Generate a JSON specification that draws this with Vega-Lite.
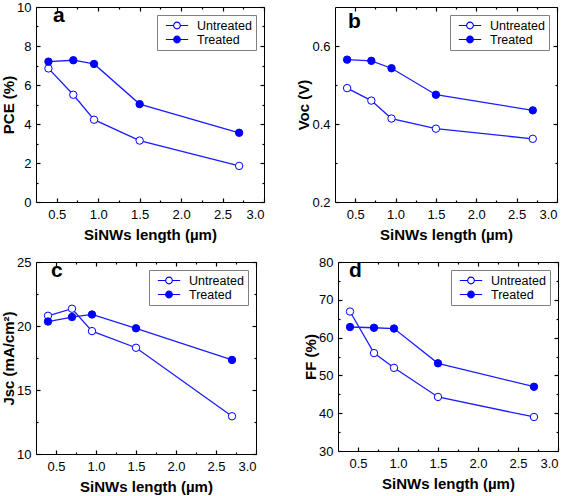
{
  "$schema": "https://vega.github.io/schema/vega-lite/v6.json",
  "background": "white",
  "padding": {"left": 1, "top": 0, "right": 0, "bottom": 0},
  "config": {
    "font": "Liberation Sans",
    "view": {"stroke": "#000", "strokeWidth": 1},
    "axis": {"domain": false, "grid": false, "ticks": true, "tickColor": "#000", "tickWidth": 1.2, "labelColor": "#000", "labelFont": "Liberation Sans", "labelFontSize": 13, "titleFont": "Liberation Sans", "titleFontSize": 15, "titleFontWeight": "bold", "titleColor": "#000"},
    "legend": {"strokeColor": "#808080", "fillColor": "#ffffff", "padding": 4, "symbolType": "M-1,0L-0.3,0M0.3,0L1,0M-0.3,0A0.3,0.3,0,1,1,0.3,0A0.3,0.3,0,1,1,-0.3,0Z", "symbolSize": 500, "symbolStrokeColor": "#0000ff", "symbolStrokeWidth": 1.1, "symbolOffset": 4, "labelOffset": 8, "labelFontSize": 12.5, "labelFont": "Liberation Sans", "labelColor": "#000", "rowPadding": 1, "clipHeight": 13, "cornerRadius": 0, "orient": "top-right", "offset": 8}
  },
  "datasets": {
    "pce": [
      {"length": 0.4, "series": "Untreated", "value": 6.85},
      {"length": 0.7, "series": "Untreated", "value": 5.5},
      {"length": 0.95, "series": "Untreated", "value": 4.22},
      {"length": 1.5, "series": "Untreated", "value": 3.15},
      {"length": 2.7, "series": "Untreated", "value": 1.85},
      {"length": 0.4, "series": "Treated", "value": 7.2},
      {"length": 0.7, "series": "Treated", "value": 7.27},
      {"length": 0.95, "series": "Treated", "value": 7.08},
      {"length": 1.5, "series": "Treated", "value": 5.02},
      {"length": 2.7, "series": "Treated", "value": 3.55}
    ],
    "voc": [
      {"length": 0.4, "series": "Untreated", "value": 0.492},
      {"length": 0.7, "series": "Untreated", "value": 0.46},
      {"length": 0.95, "series": "Untreated", "value": 0.414},
      {"length": 1.5, "series": "Untreated", "value": 0.388},
      {"length": 2.7, "series": "Untreated", "value": 0.362},
      {"length": 0.4, "series": "Treated", "value": 0.565},
      {"length": 0.7, "series": "Treated", "value": 0.562},
      {"length": 0.95, "series": "Treated", "value": 0.543},
      {"length": 1.5, "series": "Treated", "value": 0.475},
      {"length": 2.7, "series": "Treated", "value": 0.435}
    ],
    "jsc": [
      {"length": 0.4, "series": "Untreated", "value": 20.8},
      {"length": 0.7, "series": "Untreated", "value": 21.35},
      {"length": 0.95, "series": "Untreated", "value": 19.6},
      {"length": 1.5, "series": "Untreated", "value": 18.3},
      {"length": 2.7, "series": "Untreated", "value": 12.95},
      {"length": 0.4, "series": "Treated", "value": 20.35},
      {"length": 0.7, "series": "Treated", "value": 20.7},
      {"length": 0.95, "series": "Treated", "value": 20.9},
      {"length": 1.5, "series": "Treated", "value": 19.82},
      {"length": 2.7, "series": "Treated", "value": 17.35}
    ],
    "ff": [
      {"length": 0.4, "series": "Untreated", "value": 66.9},
      {"length": 0.7, "series": "Untreated", "value": 55.9},
      {"length": 0.95, "series": "Untreated", "value": 52.0},
      {"length": 1.5, "series": "Untreated", "value": 44.3},
      {"length": 2.7, "series": "Untreated", "value": 39.0},
      {"length": 0.4, "series": "Treated", "value": 62.8},
      {"length": 0.7, "series": "Treated", "value": 62.6},
      {"length": 0.95, "series": "Treated", "value": 62.4},
      {"length": 1.5, "series": "Treated", "value": 53.2},
      {"length": 2.7, "series": "Treated", "value": 47.0}
    ]
  },
  "spacing": 12,
  "vconcat": [
    {
      "spacing": 30,
      "resolve": {"scale": {"fill": "independent"}, "legend": {"fill": "independent"}},
      "hconcat": [
        {
          "width": 228, "height": 195,
          "title": {"text": "a", "anchor": "start", "frame": "group", "offset": -25, "dx": 17, "fontSize": 21, "fontWeight": "bold", "font": "Liberation Sans", "color": "#000"},
          "data": {"name": "pce"},
          "resolve": {"axis": {"x": "independent", "y": "independent"}},
          "layer": [
            {"mark": {"type": "line", "color": "#1c1cff", "strokeWidth": 1.3},
             "encoding": {
               "x": {"field": "length", "type": "quantitative", "scale": {"domain": [0.25, 3], "nice": false, "zero": false}, "axis": {"orient": "bottom", "values": [0.5, 1, 1.5, 2, 2.5, 3], "format": ".1f", "title": "SiNWs length (µm)", "offset": -4, "tickSize": 4, "labelPadding": 6, "titlePadding": 6}},
               "y": {"field": "value", "type": "quantitative", "scale": {"domain": [0, 10], "nice": false, "zero": false}, "axis": {"orient": "left", "values": [0, 2, 4, 6, 8, 10], "title": "PCE (%)", "offset": -4, "tickSize": 4, "labelPadding": 5, "titlePadding": 0}},
               "detail": {"field": "series"}}},
            {"mark": {"type": "line", "strokeOpacity": 0},
             "encoding": {
               "x": {"field": "length", "type": "quantitative", "axis": {"orient": "bottom", "values": [0.75, 1.25, 1.75, 2.25, 2.75], "labels": false, "title": null, "offset": -2, "tickSize": 2}},
               "y": {"field": "value", "type": "quantitative", "axis": {"orient": "left", "values": [1, 3, 5, 7, 9], "labels": false, "title": null, "offset": -2, "tickSize": 2}},
               "detail": {"field": "series"}}},
            {"mark": {"type": "line", "strokeOpacity": 0},
             "encoding": {
               "x": {"field": "length", "type": "quantitative", "axis": {"orient": "top", "values": [0.5, 1, 1.5, 2, 2.5, 3], "labels": false, "title": null, "offset": -4, "tickSize": 4}},
               "y": {"field": "value", "type": "quantitative", "axis": {"orient": "right", "values": [0, 2, 4, 6, 8, 10], "labels": false, "title": null, "offset": -4, "tickSize": 4}},
               "detail": {"field": "series"}}},
            {"mark": {"type": "line", "strokeOpacity": 0},
             "encoding": {
               "x": {"field": "length", "type": "quantitative", "axis": {"orient": "top", "values": [0.75, 1.25, 1.75, 2.25, 2.75], "labels": false, "title": null, "offset": -2, "tickSize": 2}},
               "y": {"field": "value", "type": "quantitative", "axis": {"orient": "right", "values": [1, 3, 5, 7, 9], "labels": false, "title": null, "offset": -2, "tickSize": 2}},
               "detail": {"field": "series"}}},
            {"mark": {"type": "point", "filled": true, "size": 55, "stroke": "#0000ff", "strokeWidth": 1, "opacity": 1},
             "encoding": {
               "x": {"field": "length", "type": "quantitative", "axis": null},
               "y": {"field": "value", "type": "quantitative", "axis": null},
               "fill": {"field": "series", "type": "nominal", "scale": {"domain": ["Untreated", "Treated"], "range": ["#ffffff", "#0000ff"]}, "legend": {"title": null, "encode": {"symbols": {"update": {"stroke": {"value": "#0000ff"}, "strokeWidth": {"value": 1.1}, "size": {"value": 500}}}}}}}}
          ]
        },
        {
          "width": 222, "height": 195,
          "title": {"text": "b", "anchor": "start", "frame": "group", "offset": -26, "dx": 13, "fontSize": 21, "fontWeight": "bold", "font": "Liberation Sans", "color": "#000"},
          "data": {"name": "voc"},
          "resolve": {"axis": {"x": "independent", "y": "independent"}},
          "layer": [
            {"mark": {"type": "line", "color": "#1c1cff", "strokeWidth": 1.3},
             "encoding": {
               "x": {"field": "length", "type": "quantitative", "scale": {"domain": [0.25, 3], "nice": false, "zero": false}, "axis": {"orient": "bottom", "values": [0.5, 1, 1.5, 2, 2.5, 3], "format": ".1f", "title": "SiNWs length (µm)", "offset": -4, "tickSize": 4, "labelPadding": 6, "titlePadding": 6}},
               "y": {"field": "value", "type": "quantitative", "scale": {"domain": [0.2, 0.7], "nice": false, "zero": false}, "axis": {"orient": "left", "values": [0.2, 0.4, 0.6], "format": ".1f", "title": "Voc (V)", "offset": -4, "tickSize": 4, "labelPadding": 5, "titlePadding": 0}},
               "detail": {"field": "series"}}},
            {"mark": {"type": "line", "strokeOpacity": 0},
             "encoding": {
               "x": {"field": "length", "type": "quantitative", "axis": {"orient": "bottom", "values": [0.75, 1.25, 1.75, 2.25, 2.75], "labels": false, "title": null, "offset": -2, "tickSize": 2}},
               "y": {"field": "value", "type": "quantitative", "axis": {"orient": "left", "values": [0.3, 0.5], "labels": false, "title": null, "offset": -2, "tickSize": 2}},
               "detail": {"field": "series"}}},
            {"mark": {"type": "line", "strokeOpacity": 0},
             "encoding": {
               "x": {"field": "length", "type": "quantitative", "axis": {"orient": "top", "values": [0.5, 1, 1.5, 2, 2.5, 3], "labels": false, "title": null, "offset": -4, "tickSize": 4}},
               "y": {"field": "value", "type": "quantitative", "axis": {"orient": "right", "values": [0.2, 0.4, 0.6], "labels": false, "title": null, "offset": -4, "tickSize": 4}},
               "detail": {"field": "series"}}},
            {"mark": {"type": "line", "strokeOpacity": 0},
             "encoding": {
               "x": {"field": "length", "type": "quantitative", "axis": {"orient": "top", "values": [0.75, 1.25, 1.75, 2.25, 2.75], "labels": false, "title": null, "offset": -2, "tickSize": 2}},
               "y": {"field": "value", "type": "quantitative", "axis": {"orient": "right", "values": [0.3, 0.5], "labels": false, "title": null, "offset": -2, "tickSize": 2}},
               "detail": {"field": "series"}}},
            {"mark": {"type": "point", "filled": true, "size": 55, "stroke": "#0000ff", "strokeWidth": 1, "opacity": 1},
             "encoding": {
               "x": {"field": "length", "type": "quantitative", "axis": null},
               "y": {"field": "value", "type": "quantitative", "axis": null},
               "fill": {"field": "series", "type": "nominal", "scale": {"domain": ["Untreated", "Treated"], "range": ["#ffffff", "#0000ff"]}, "legend": {"title": null, "encode": {"symbols": {"update": {"stroke": {"value": "#0000ff"}, "strokeWidth": {"value": 1.1}, "size": {"value": 500}}}}}}}}
          ]
        }
      ]
    },
    {
      "spacing": 45,
      "resolve": {"scale": {"fill": "independent"}, "legend": {"fill": "independent"}},
      "hconcat": [
        {
          "width": 220, "height": 192,
          "title": {"text": "c", "anchor": "start", "frame": "group", "offset": -25, "dx": 15, "fontSize": 21, "fontWeight": "bold", "font": "Liberation Sans", "color": "#000"},
          "data": {"name": "jsc"},
          "resolve": {"axis": {"x": "independent", "y": "independent"}},
          "layer": [
            {"mark": {"type": "line", "color": "#1c1cff", "strokeWidth": 1.3},
             "encoding": {
               "x": {"field": "length", "type": "quantitative", "scale": {"domain": [0.25, 3], "nice": false, "zero": false}, "axis": {"orient": "bottom", "values": [0.5, 1, 1.5, 2, 2.5, 3], "format": ".1f", "title": "SiNWs length (µm)", "offset": -4, "tickSize": 4, "labelPadding": 6, "titlePadding": 6}},
               "y": {"field": "value", "type": "quantitative", "scale": {"domain": [10, 25], "nice": false, "zero": false}, "axis": {"orient": "left", "values": [10, 15, 20, 25], "title": "Jsc (mA/cm²)", "offset": -4, "tickSize": 4, "labelPadding": 5, "titlePadding": 0}},
               "detail": {"field": "series"}}},
            {"mark": {"type": "line", "strokeOpacity": 0},
             "encoding": {
               "x": {"field": "length", "type": "quantitative", "axis": {"orient": "bottom", "values": [0.75, 1.25, 1.75, 2.25, 2.75], "labels": false, "title": null, "offset": -2, "tickSize": 2}},
               "y": {"field": "value", "type": "quantitative", "axis": {"orient": "left", "values": [12.5, 17.5, 22.5], "labels": false, "title": null, "offset": -2, "tickSize": 2}},
               "detail": {"field": "series"}}},
            {"mark": {"type": "line", "strokeOpacity": 0},
             "encoding": {
               "x": {"field": "length", "type": "quantitative", "axis": {"orient": "top", "values": [0.5, 1, 1.5, 2, 2.5, 3], "labels": false, "title": null, "offset": -4, "tickSize": 4}},
               "y": {"field": "value", "type": "quantitative", "axis": {"orient": "right", "values": [10, 15, 20, 25], "labels": false, "title": null, "offset": -4, "tickSize": 4}},
               "detail": {"field": "series"}}},
            {"mark": {"type": "line", "strokeOpacity": 0},
             "encoding": {
               "x": {"field": "length", "type": "quantitative", "axis": {"orient": "top", "values": [0.75, 1.25, 1.75, 2.25, 2.75], "labels": false, "title": null, "offset": -2, "tickSize": 2}},
               "y": {"field": "value", "type": "quantitative", "axis": {"orient": "right", "values": [12.5, 17.5, 22.5], "labels": false, "title": null, "offset": -2, "tickSize": 2}},
               "detail": {"field": "series"}}},
            {"mark": {"type": "point", "filled": true, "size": 55, "stroke": "#0000ff", "strokeWidth": 1, "opacity": 1},
             "encoding": {
               "x": {"field": "length", "type": "quantitative", "axis": null},
               "y": {"field": "value", "type": "quantitative", "axis": null},
               "fill": {"field": "series", "type": "nominal", "scale": {"domain": ["Untreated", "Treated"], "range": ["#ffffff", "#0000ff"]}, "legend": {"title": null, "encode": {"symbols": {"update": {"stroke": {"value": "#0000ff"}, "strokeWidth": {"value": 1.1}, "size": {"value": 500}}}}}}}}
          ]
        },
        {
          "width": 220, "height": 189,
          "title": {"text": "d", "anchor": "start", "frame": "group", "offset": -25, "dx": 11, "fontSize": 21, "fontWeight": "bold", "font": "Liberation Sans", "color": "#000"},
          "data": {"name": "ff"},
          "resolve": {"axis": {"x": "independent", "y": "independent"}},
          "layer": [
            {"mark": {"type": "line", "color": "#1c1cff", "strokeWidth": 1.3},
             "encoding": {
               "x": {"field": "length", "type": "quantitative", "scale": {"domain": [0.25, 3], "nice": false, "zero": false}, "axis": {"orient": "bottom", "values": [0.5, 1, 1.5, 2, 2.5, 3], "format": ".1f", "title": "SiNWs length (µm)", "offset": -4, "tickSize": 4, "labelPadding": 6, "titlePadding": 6}},
               "y": {"field": "value", "type": "quantitative", "scale": {"domain": [30, 80], "nice": false, "zero": false}, "axis": {"orient": "left", "values": [30, 40, 50, 60, 70, 80], "title": "FF (%)", "offset": -4, "tickSize": 4, "labelPadding": 5, "titlePadding": 0}},
               "detail": {"field": "series"}}},
            {"mark": {"type": "line", "strokeOpacity": 0},
             "encoding": {
               "x": {"field": "length", "type": "quantitative", "axis": {"orient": "bottom", "values": [0.75, 1.25, 1.75, 2.25, 2.75], "labels": false, "title": null, "offset": -2, "tickSize": 2}},
               "y": {"field": "value", "type": "quantitative", "axis": {"orient": "left", "values": [35, 45, 55, 65, 75], "labels": false, "title": null, "offset": -2, "tickSize": 2}},
               "detail": {"field": "series"}}},
            {"mark": {"type": "line", "strokeOpacity": 0},
             "encoding": {
               "x": {"field": "length", "type": "quantitative", "axis": {"orient": "top", "values": [0.5, 1, 1.5, 2, 2.5, 3], "labels": false, "title": null, "offset": -4, "tickSize": 4}},
               "y": {"field": "value", "type": "quantitative", "axis": {"orient": "right", "values": [30, 40, 50, 60, 70, 80], "labels": false, "title": null, "offset": -4, "tickSize": 4}},
               "detail": {"field": "series"}}},
            {"mark": {"type": "line", "strokeOpacity": 0},
             "encoding": {
               "x": {"field": "length", "type": "quantitative", "axis": {"orient": "top", "values": [0.75, 1.25, 1.75, 2.25, 2.75], "labels": false, "title": null, "offset": -2, "tickSize": 2}},
               "y": {"field": "value", "type": "quantitative", "axis": {"orient": "right", "values": [35, 45, 55, 65, 75], "labels": false, "title": null, "offset": -2, "tickSize": 2}},
               "detail": {"field": "series"}}},
            {"mark": {"type": "point", "filled": true, "size": 55, "stroke": "#0000ff", "strokeWidth": 1, "opacity": 1},
             "encoding": {
               "x": {"field": "length", "type": "quantitative", "axis": null},
               "y": {"field": "value", "type": "quantitative", "axis": null},
               "fill": {"field": "series", "type": "nominal", "scale": {"domain": ["Untreated", "Treated"], "range": ["#ffffff", "#0000ff"]}, "legend": {"title": null, "encode": {"symbols": {"update": {"stroke": {"value": "#0000ff"}, "strokeWidth": {"value": 1.1}, "size": {"value": 500}}}}}}}}
          ]
        }
      ]
    }
  ]
}
